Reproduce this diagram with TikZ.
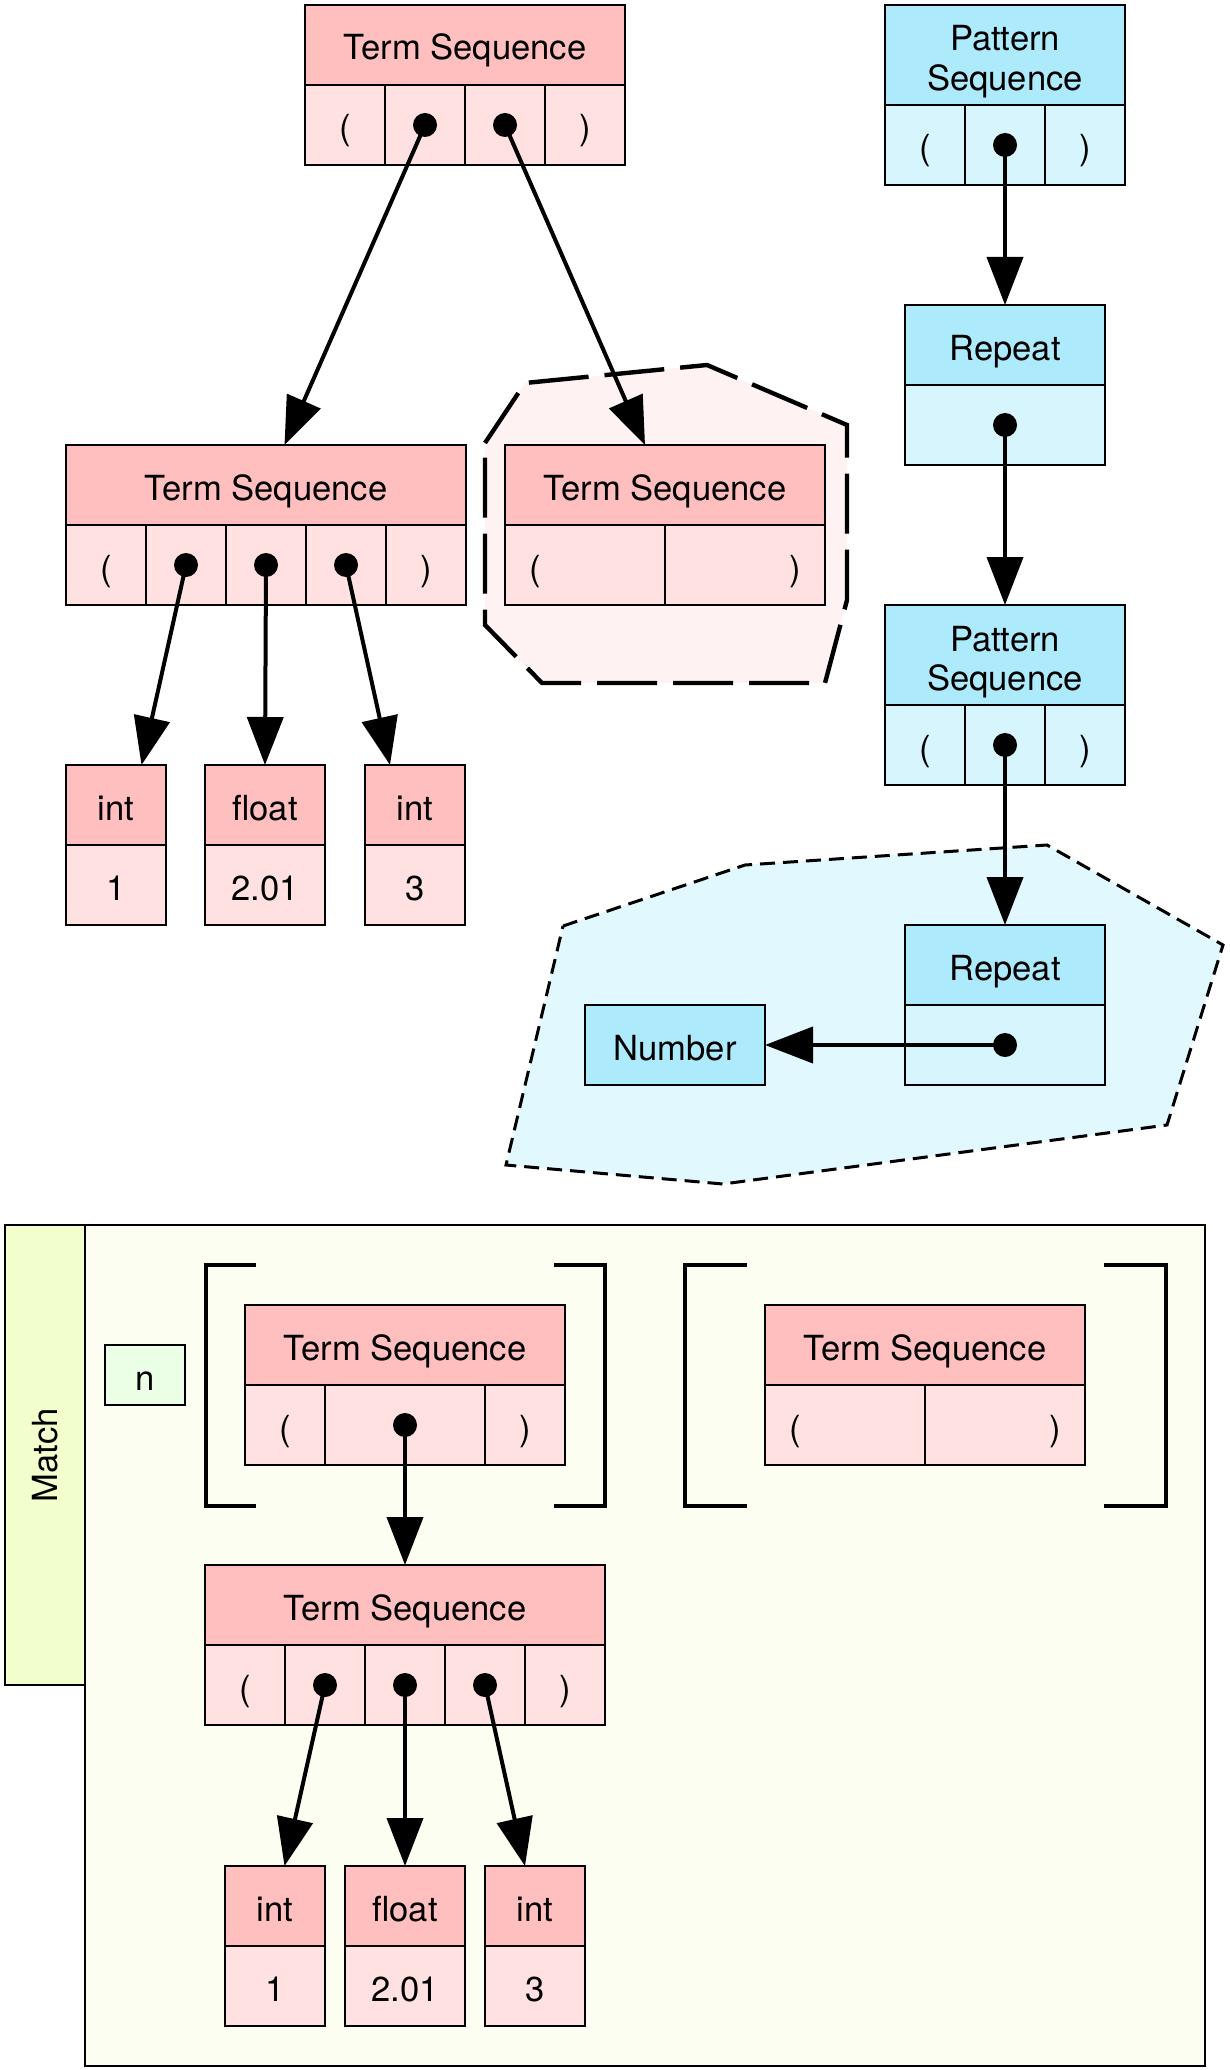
\documentclass[tikz,border=0pt]{standalone}
\usepackage{fontspec}
\setmainfont{TeX Gyre Heros}
\usetikzlibrary{positioning,arrows.meta}

\definecolor{termhead}{HTML}{FFBFBF}
\definecolor{termcell}{HTML}{FFE1E1}
\definecolor{termgroup}{HTML}{FFF2F2}
\definecolor{pathead}{HTML}{ADEBFC}
\definecolor{patcell}{HTML}{D6F5FD}
\definecolor{patgroup}{HTML}{E0F8FE}
\definecolor{matchtab}{HTML}{F2FFCC}
\definecolor{matchbg}{HTML}{FBFEF0}
\definecolor{bindbox}{HTML}{EAFFE6}

\tikzset{
  rec/.style={draw, line width=1pt, inner sep=0pt, outer sep=0pt, text height=15pt, text depth=0pt,
    font=\fontsize{17.3}{19.75}\selectfont},
  thead/.style={rec, fill=termhead, minimum height=40pt},
  tcell/.style={rec, fill=termcell, minimum height=40pt, minimum width=40pt},
  phead/.style={rec, fill=pathead, minimum height=40pt},
  pcell/.style={rec, fill=patcell, minimum height=40pt, minimum width=40pt},
  lcell/.style={text width=56pt, inner xsep=12pt, align=left},
  rcell/.style={text width=56pt, inner xsep=12pt, align=right},
  dot/.style={circle, fill=black, inner sep=0pt, minimum size=12pt},
  link/.style={line width=2pt, -{Triangle[length=24pt,width=18pt]}},
  group/.style={line width=2.2pt, dash pattern=on 30pt off 8pt},
}

\begin{document}
\begin{tikzpicture}[x=0.5pt, y=-0.5pt]
    \useasboundingbox[fill=white] (0,0) rectangle (1230,2070);

    % Match frame
    \node[rec, fill=matchbg, minimum width=560pt, minimum height=420.5pt, anchor=north west] (match) at (85,1225) {};
    \node[rec, fill=matchtab, minimum width=40pt, minimum height=230pt, anchor=north west,
      text height=, text depth=] (matchlbl) at (5,1225) {\rotatebox{90}{Match}};

    % Groups
    \filldraw[group, fill=termgroup] (485,443) -- (525,383) -- (707,365) -- (847,425) -- (847,600)
      -- (825,683) -- (542,683) -- (485,625) -- cycle;
    \filldraw[group, fill=patgroup, line width=1.5pt, dash pattern=on 7.5pt off 4pt] (563,926) -- (745,865)
      -- (1047,845) -- (1223,945) -- (1167,1125) -- (723,1184) -- (506,1165) -- cycle;

    % Brackets
    \draw[line width=2pt] (256,1265) -| (206,1506) -- (256,1506);
    \draw[line width=2pt] (554,1265) -| (605,1506) -- (554,1506);
    \draw[line width=2pt] (747,1265) -| (685,1506) -- (747,1506);
    \draw[line width=2pt] (1104,1265) -| (1166,1506) -- (1104,1506);

    % Term sequences
    \node[thead, minimum width=160pt, anchor=north west] (ts1) at (305,5) {Term Sequence};
    \node[tcell, anchor=north west] (ts1a) at (ts1.south west) {(};
    \node[tcell, right=0pt of ts1a] (ts1b) {};
    \node[tcell, right=0pt of ts1b] (ts1c) {};
    \node[tcell, right=0pt of ts1c] (ts1d) {)};
    \node[dot] (ts1b-dot) at (ts1b) {};
    \node[dot] (ts1c-dot) at (ts1c) {};

    \node[thead, minimum width=200pt, anchor=north west] (ts2) at (66,445) {Term Sequence};
    \node[tcell, anchor=north west] (ts2a) at (ts2.south west) {(};
    \node[tcell, right=0pt of ts2a] (ts2b) {};
    \node[tcell, right=0pt of ts2b] (ts2c) {};
    \node[tcell, right=0pt of ts2c] (ts2d) {};
    \node[tcell, right=0pt of ts2d] (ts2e) {)};
    \node[dot] (ts2b-dot) at (ts2b) {};
    \node[dot] (ts2c-dot) at (ts2c) {};
    \node[dot] (ts2d-dot) at (ts2d) {};

    \node[thead, minimum width=160pt, anchor=north west] (ts3) at (505,445) {Term Sequence};
    \node[tcell, lcell, anchor=north west] (ts3a) at (ts3.south west) {(};
    \node[tcell, rcell, right=0pt of ts3a] (ts3b) {)};

    \node[thead, minimum width=50pt, anchor=north west] (int1) at (66,765) {int};
    \node[tcell, minimum width=50pt, below=0pt of int1] (int1v) {1};
    \node[thead, minimum width=60pt, anchor=north west] (float1) at (205,765) {float};
    \node[tcell, minimum width=60pt, below=0pt of float1] (float1v) {2.01};
    \node[thead, minimum width=50pt, anchor=north west] (int2) at (365,765) {int};
    \node[tcell, minimum width=50pt, below=0pt of int2] (int2v) {3};

    % Pattern sequences
    \node[phead, minimum width=120pt, minimum height=50pt, align=center, text height=35.5pt, text depth=0pt,
      anchor=north west] (ps1) at (885,5) {Pattern\\Sequence};
    \node[pcell, anchor=north west] (ps1a) at (ps1.south west) {(};
    \node[pcell, right=0pt of ps1a] (ps1b) {};
    \node[pcell, right=0pt of ps1b] (ps1c) {)};
    \node[dot] (ps1b-dot) at (ps1b) {};

    \node[phead, minimum width=100pt, anchor=north west] (rep1) at (905,305) {Repeat};
    \node[pcell, minimum width=100pt, below=0pt of rep1] (rep1v) {};
    \node[dot] (rep1v-dot) at (rep1v) {};

    \node[phead, minimum width=120pt, minimum height=50pt, align=center, text height=35.5pt, text depth=0pt,
      anchor=north west] (ps2) at (885,605) {Pattern\\Sequence};
    \node[pcell, anchor=north west] (ps2a) at (ps2.south west) {(};
    \node[pcell, right=0pt of ps2a] (ps2b) {};
    \node[pcell, right=0pt of ps2b] (ps2c) {)};
    \node[dot] (ps2b-dot) at (ps2b) {};

    \node[phead, minimum width=100pt, anchor=north west] (rep2) at (905,925) {Repeat};
    \node[pcell, minimum width=100pt, below=0pt of rep2] (rep2v) {};
    \node[dot] (rep2v-dot) at (rep2v) {};

    \node[phead, minimum width=90pt, anchor=north west] (num) at (585,1005) {Number};

    % Match contents
    \node[rec, fill=bindbox, minimum width=40pt, minimum height=30pt, anchor=north west] (bind) at (105,1345) {n};

    \node[thead, minimum width=160pt, anchor=north west] (ts4) at (245,1305) {Term Sequence};
    \node[tcell, anchor=north west] (ts4a) at (ts4.south west) {(};
    \node[tcell, minimum width=80pt, right=0pt of ts4a] (ts4b) {};
    \node[tcell, right=0pt of ts4b] (ts4c) {)};
    \node[dot] (ts4b-dot) at (ts4b) {};

    \node[thead, minimum width=160pt, anchor=north west] (ts5) at (765,1305) {Term Sequence};
    \node[tcell, lcell, anchor=north west] (ts5a) at (ts5.south west) {(};
    \node[tcell, rcell, right=0pt of ts5a] (ts5b) {)};

    \node[thead, minimum width=200pt, anchor=north west] (ts6) at (205,1565) {Term Sequence};
    \node[tcell, anchor=north west] (ts6a) at (ts6.south west) {(};
    \node[tcell, right=0pt of ts6a] (ts6b) {};
    \node[tcell, right=0pt of ts6b] (ts6c) {};
    \node[tcell, right=0pt of ts6c] (ts6d) {};
    \node[tcell, right=0pt of ts6d] (ts6e) {)};
    \node[dot] (ts6b-dot) at (ts6b) {};
    \node[dot] (ts6c-dot) at (ts6c) {};
    \node[dot] (ts6d-dot) at (ts6d) {};

    \node[thead, minimum width=50pt, anchor=north west] (int3) at (225,1866) {int};
    \node[tcell, minimum width=50pt, below=0pt of int3] (int3v) {1};
    \node[thead, minimum width=60pt, anchor=north west] (float2) at (345,1866) {float};
    \node[tcell, minimum width=60pt, below=0pt of float2] (float2v) {2.01};
    \node[thead, minimum width=50pt, anchor=north west] (int4) at (485,1866) {int};
    \node[tcell, minimum width=50pt, below=0pt of int4] (int4v) {3};

    % Connect the nodes
    \draw[link] (ts1b-dot.center) -- ([xshift=9.25pt]ts2.north);
    \draw[link] (ts1c-dot.center) -- ([xshift=-10pt]ts3.north);
    \draw[link] (ts2b-dot.center) -- ([xshift=12.75pt]int1.north);
    \draw[link] (ts2c-dot.center) -- (float1.north);
    \draw[link] (ts2d-dot.center) -- ([xshift=-12.5pt]int2.north);
    \draw[link] (ps1b-dot.center) -- (rep1.north);
    \draw[link] (rep1v-dot.center) -- (ps2.north);
    \draw[link] (ps2b-dot.center) -- (rep2.north);
    \draw[link] (rep2v-dot.center) -- (num.east);
    \draw[link] (ts4b-dot.center) -- (ts6.north);
    \draw[link] (ts6b-dot.center) -- ([xshift=4.75pt]int3.north);
    \draw[link] (ts6c-dot.center) -- (float2.north);
    \draw[link] (ts6d-dot.center) -- ([xshift=-5pt]int4.north);

\end{tikzpicture}
\end{document}
